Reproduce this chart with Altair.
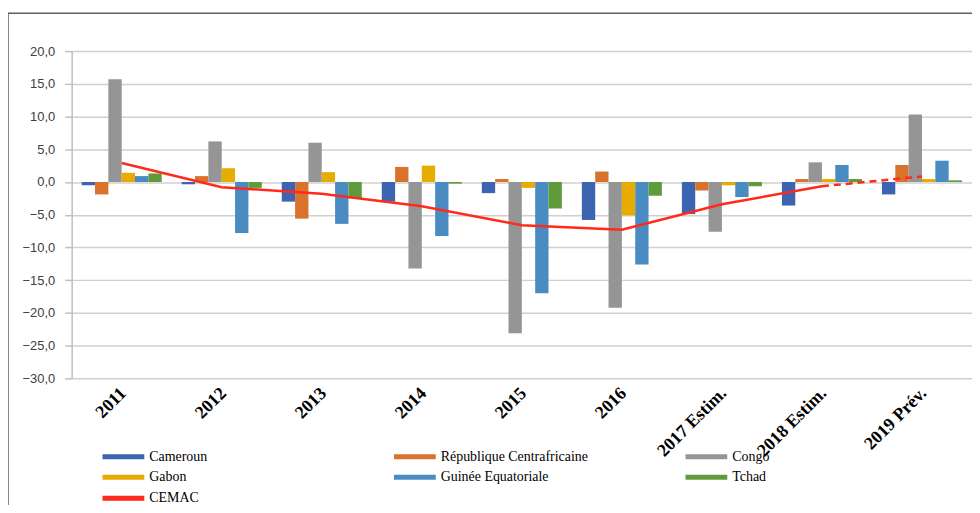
import altair as alt
import pandas as pd

years = ["2011", "2012", "2013", "2014", "2015", "2016", "2017 Estim.", "2018 Estim.", "2019 Prév."]
countries = ["Cameroun", "République Centrafricaine", "Congo", "Gabon", "Guinée Equatoriale", "Tchad"]

cameroun = [-0.5, -0.35, -3.0, -3.0, -1.7, -5.8, -4.9, -3.6, -1.9]
rca = [-1.9, 0.9, -5.6, 2.3, 0.45, 1.6, -1.3, 0.45, 2.6]
congo = [15.7, 6.2, 6.0, -13.2, -23.1, -19.2, -7.6, 3.0, 10.3]
gabon = [1.4, 2.1, 1.5, 2.5, -0.9, -5.1, -0.5, 0.45, 0.45]
guinee = [0.9, -7.8, -6.4, -8.25, -17.0, -12.6, -2.3, 2.6, 3.25]
tchad = [1.3, -0.9, -2.5, -0.25, -4.05, -2.1, -0.65, 0.45, 0.25]
cemac = [2.9, -0.8, -1.8, -3.7, -6.6, -7.3, -3.4, -0.65, 0.85]

y_ticks = [-30, -25, -20, -15, -10, -5, 0, 5, 10, 15, 20]
colors = ["#3C64B1", "#D9722B", "#959595", "#E6AD00", "#4A8BC2", "#5F9A3B", "#FF2A1A"]

series = [cameroun, rca, congo, gabon, guinee, tchad]
rows = []
for i, yr in enumerate(years):
    for c, vals in zip(countries, series):
        rows.append({"year": yr, "country": c, "value": vals[i]})
bars_df = pd.DataFrame(rows)
line_df = pd.DataFrame({"year": years, "value": cemac})
solid_df = line_df.iloc[:8]
dashed_df = line_df.iloc[7:]

domain = countries + ["CEMAC"]
color_scale = alt.Scale(domain=domain, range=colors)

x_enc = alt.X(
    "year:N", sort=years,
    scale=alt.Scale(paddingInner=0.2, paddingOuter=0.1),
    axis=alt.Axis(title=None, labelAngle=-45, labelAlign="right", labelBaseline="middle",
                  labelFont="Liberation Serif", labelFontWeight="bold", labelFontSize=18,
                  labelColor="black", domain=False, ticks=False, grid=False,
                  labelPadding=12, labelOffset=2, labelOverlap=False),
)
y_enc = alt.Y(
    "value:Q",
    scale=alt.Scale(domain=[-30, 20], nice=False),
    axis=alt.Axis(values=y_ticks, labelExpr="replace(format(datum.value, '.1f'), '.', ',')",
                  title=None, grid=True, gridColor="#d0d0d0", gridWidth=1.5,
                  domainColor="#bfbfbf", domainWidth=1.5, tickColor="#bfbfbf", tickWidth=1.5,
                  tickSize=7, labelFont="Liberation Sans", labelFontSize=13,
                  labelColor="#404040", labelPadding=10, labelOverlap=False),
)

bars = alt.Chart(bars_df).mark_bar().encode(
    x=x_enc,
    xOffset=alt.XOffset("country:N", sort=countries, scale=alt.Scale(paddingInner=0, paddingOuter=0)),
    y=y_enc,
    color=alt.Color("country:N", scale=color_scale,
                    legend=alt.Legend(title=None, orient="none", legendX=31, legendY=397,
                                      direction="horizontal", columns=3, gridAlign="all",
                                      columnPadding=97, rowPadding=3,
                                      symbolType="M-1,-0.24L3,-0.24L3,0.24L-1,0.24Z",
                                      symbolSize=441, symbolStrokeWidth=0, symbolOpacity=1,
                                      labelFont="Liberation Serif", labelFontSize=14,
                                      labelColor="black", labelOffset=26)),
)

solid = alt.Chart(solid_df).mark_line(color="#FF2A1A", strokeWidth=2.5).encode(
    x=x_enc, y=y_enc)
dashed = alt.Chart(dashed_df).mark_line(color="#FF2A1A", strokeWidth=2.5, strokeDash=[7, 5]).encode(
    x=x_enc, y=y_enc)

frame = alt.Chart(alt.Data(values=[{"a": 1}])).mark_rect(
    fill="transparent", stroke="#606060", strokeWidth=1.5
).encode(x=alt.value(-64), x2=alt.value(1000), y=alt.value(-38), y2=alt.value(700))

chart = alt.layer(frame, bars, solid, dashed).properties(
    width=905, height=329,
    autosize=alt.AutoSizeParams(type="none"),
    padding={"left": 64, "top": 42, "right": 0, "bottom": 126},
).configure_view(stroke=None)

chart.save("out.html", embed_options={"renderer": "svg", "actions": False})
